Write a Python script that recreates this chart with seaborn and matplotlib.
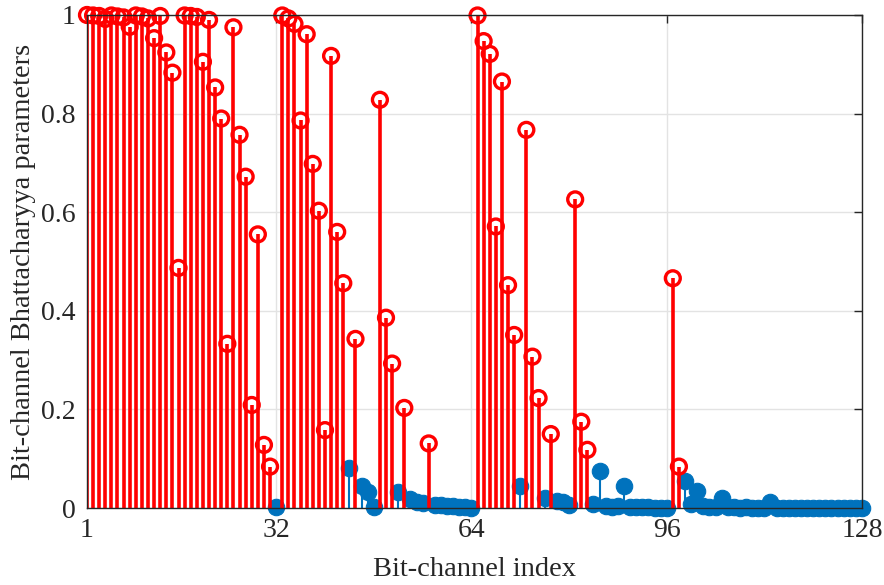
import numpy as np
import pandas as pd
import matplotlib
matplotlib.use("Agg")
import matplotlib.pyplot as plt
import seaborn as sns

# Bhattacharyya parameter of each bit-channel, N = 128 (index 1..128)
z_values = [
    1.000, 0.999, 0.998, 0.992, 0.999, 0.997, 0.995, 0.976,
    0.999, 0.997, 0.993, 0.953, 0.998, 0.924, 0.883, 0.487,
    0.999, 0.998, 0.996, 0.905, 0.990, 0.853, 0.790, 0.333,
    0.975, 0.757, 0.672, 0.209, 0.555, 0.128, 0.084, 0.003,
    0.999, 0.993, 0.982, 0.786, 0.961, 0.698, 0.603, 0.158,
    0.917, 0.560, 0.456, 0.082, 0.343, 0.045, 0.032, 0.002,
    0.828, 0.386, 0.293, 0.032, 0.203, 0.018, 0.013, 0.010,
    0.131, 0.007, 0.006, 0.004, 0.005, 0.003, 0.003, 0.001,
    0.999, 0.947, 0.921, 0.571, 0.865, 0.452, 0.351, 0.044,
    0.767, 0.307, 0.223, 0.020, 0.150, 0.015, 0.012, 0.006,
    0.626, 0.175, 0.118, 0.008, 0.075, 0.004, 0.003, 0.004,
    0.045, 0.003, 0.002, 0.002, 0.002, 0.001, 0.001, 0.001,
    0.466, 0.084, 0.055, 0.008, 0.035, 0.004, 0.003, 0.003,
    0.020, 0.002, 0.002, 0.001, 0.002, 0.001, 0.001, 0.001,
    0.012, 0.001, 0.001, 0.001, 0.001, 0.001, 0.001, 0.001,
    0.001, 0.001, 0.001, 0.001, 0.001, 0.001, 0.001, 0.001,
]

# Frozen (unreliable) bit-channels
frozen_idx = (
    list(range(1, 32)) + list(range(33, 44)) + [45, 49, 50, 51, 53, 57]
    + list(range(65, 72)) + [73, 74, 75, 77, 81, 82, 83, 97, 98]
)

x_ticks = [1, 32, 64, 96, 128]
y_ticks = [0, 0.2, 0.4, 0.6, 0.8, 1.0]
y_tick_labels = ["0", "0.2", "0.4", "0.6", "0.8", "1"]

df = pd.DataFrame({"index": np.arange(1, len(z_values) + 1), "z": z_values})
df["frozen"] = df["index"].isin(frozen_idx)
info = df[~df["frozen"]]
frozen = df[df["frozen"]]

sns.set_theme(style="whitegrid")
plt.rcParams["font.family"] = ["Liberation Serif", "DejaVu Serif"]
plt.rcParams["mathtext.fontset"] = "stix"

fig = plt.figure(figsize=(8.84, 5.85), dpi=100)
ax = fig.add_axes([0.0984, 0.1316, 0.8767, 0.8428])

blue = "#0072BD"
red = "#FF0000"

# information channels: filled blue stems
ax.vlines(info["index"], 0, info["z"], color=blue, lw=1.5, zorder=2)
sns.scatterplot(data=info, x="index", y="z", ax=ax, color=blue, s=140,
                edgecolor=blue, linewidth=0.8, marker="o", zorder=3,
                legend=False, clip_on=False)

# frozen channels: red stems with open circles
ax.vlines(frozen["index"], 0, frozen["z"], color=red, lw=2.6, zorder=4)
sns.scatterplot(data=frozen, x="index", y="z", ax=ax, s=115,
                facecolor="none", edgecolor=red, linewidth=2.4, marker="o",
                zorder=5, legend=False, clip_on=False)

ax.set_xlim(1, 128)
ax.set_ylim(0, 1)
ax.set_xticks(x_ticks)
ax.set_yticks(y_ticks)
ax.set_yticklabels(y_tick_labels)
ax.set_xlabel("Bit-channel index", fontsize=20.5, labelpad=10)
ax.set_ylabel("Bit-channel Bhattacharyya parameters", fontsize=20.5, labelpad=4)

ax.grid(True, color="#e3e3e3", lw=1.0)
ax.set_axisbelow(True)
for s in ax.spines.values():
    s.set_visible(True)
    s.set_color("#262626")
    s.set_linewidth(1.0)
    s.set_zorder(6)
ax.tick_params(axis="both", direction="in", length=6, width=1.0,
               colors="#262626", labelsize=20, top=True, right=True,
               labelcolor="#262626")
ax.tick_params(axis="y", pad=8)
ax.tick_params(axis="x", pad=7)

fig.savefig("out.png", dpi=100)
